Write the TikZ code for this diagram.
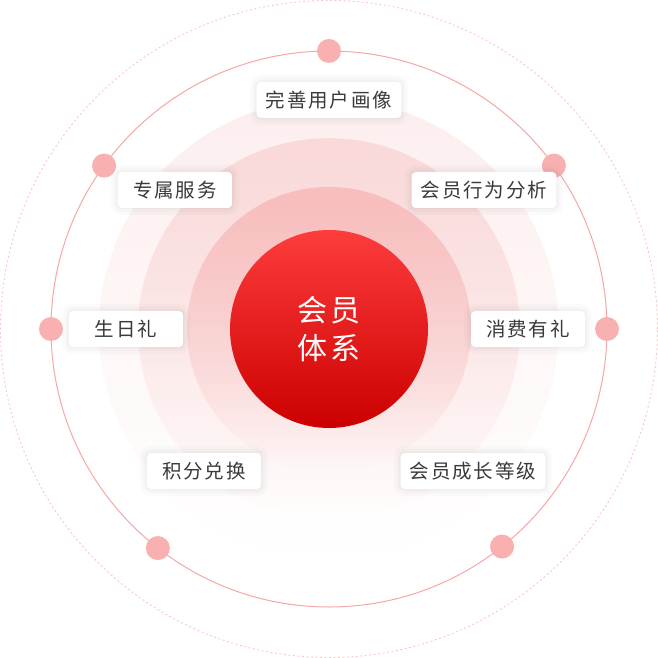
\documentclass[tikz,border=0pt]{standalone}
\usepackage{fontspec}
\newfontfamily\cjk[LetterSpace=10]{Noto Sans CJK SC}
\newfontfamily\cjkcore[LetterSpace=10]{Noto Sans CJK SC}
\usetikzlibrary{fadings}

\definecolor{outerpink}{HTML}{FBC6C6}
\definecolor{linepink}{HTML}{F7A6A6}
\definecolor{beadpink}{HTML}{F9B0B0}
\definecolor{ringA}{HTML}{F8BDBD}
\definecolor{ringB}{HTML}{FAD9D9}
\definecolor{ringC}{HTML}{FDEEEE}
\definecolor{redtop}{HTML}{FD3C3C}
\definecolor{redbottom}{HTML}{CC0000}
\definecolor{tagtext}{HTML}{3A3A3A}

\tikzfading[name=ringfade, top color=transparent!0, middle color=transparent!45, bottom color=transparent!100]

\begin{document}
\begin{tikzpicture}[x=1pt, y=1pt]
	\tikzstyle{tag}  = [rectangle, rounded corners=4pt, fill=white, minimum width=114pt, minimum height=36pt, inner xsep=9pt, text=tagtext, font=\cjk\fontsize{19.5}{19.5}\selectfont,
		preaction={draw=black, draw opacity=0.015, line width=14pt},
		preaction={draw=black, draw opacity=0.02, line width=8pt},
		preaction={draw=black, draw opacity=0.025, line width=3pt}]
	\tikzstyle{bead} = [circle, minimum size=24pt, inner sep=0pt, fill=beadpink]
	\tikzstyle{ring} = [path fading=ringfade, fit fading=true]

	\useasboundingbox (-329, -329) rectangle (329, 329);

	\draw[outerpink, line width=0.9pt, dash pattern=on 2pt off 2.5pt] (0, 0) circle (328.5);

	\foreach \r/\c in {230/ringC, 191/ringB, 142/ringA}
		\fill[\c, ring] (0, 0) circle (\r);

	\draw[linepink, line width=1pt] (0, 0) circle (278);

	\foreach \name/\a in {n/90, ne/36, e/0, se/-51.5, sw/-128, w/180, nw/144}
		\node[bead] (bead-\name) at (\a:278) {};

	\node[circle, minimum size=198pt, inner sep=0pt, top color=redtop, bottom color=redbottom, text=white, align=center, font=\cjkcore\fontsize{30}{38}\selectfont] (core) at (0, 0) {会员\\体系};

	\foreach \name/\x/\y/\txt in {portrait/0/229/完善用户画像, service/-154/139/专属服务, behaviour/155/139/会员行为分析, birthday/-203/0/生日礼, gift/199/0/消费有礼, points/-125/-142/积分兑换, level/144/-142/会员成长等级}
		\node[tag] (\name) at (\x, \y) {\txt};
\end{tikzpicture}
\end{document}
